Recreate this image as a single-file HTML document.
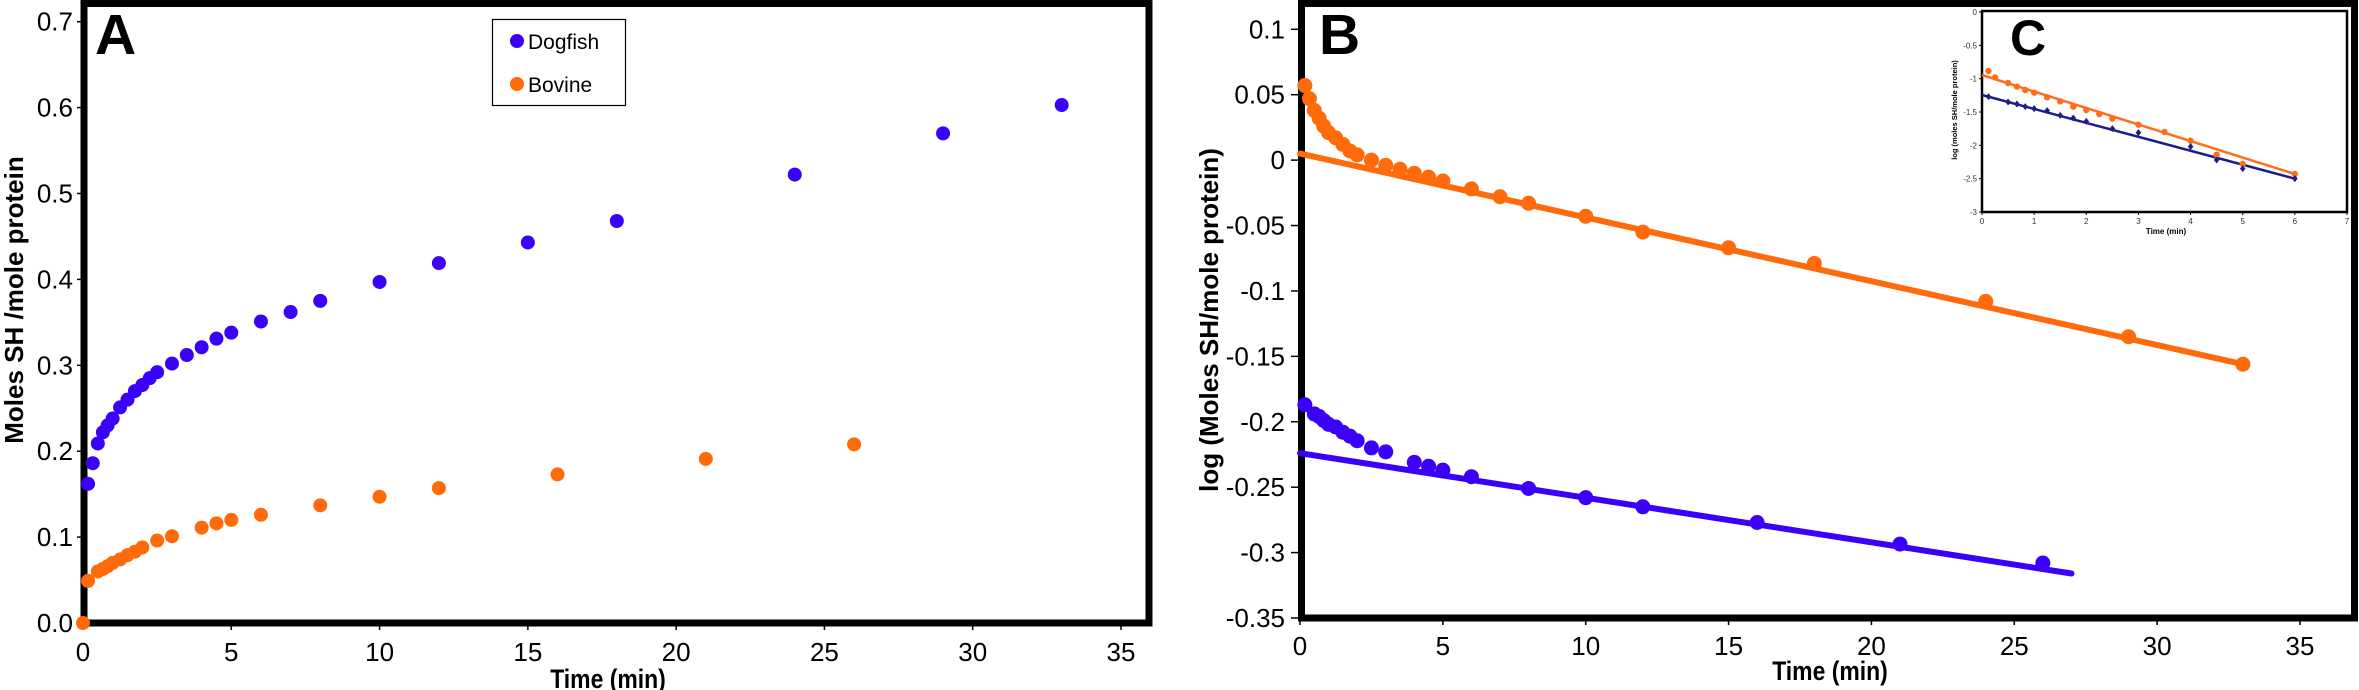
<!DOCTYPE html>
<html><head><meta charset="utf-8"><style>
html,body{margin:0;padding:0;background:#fff;}
svg{display:block;font-family:"Liberation Sans",Arial,sans-serif;}
</style></head><body>
<svg id="chart" width="2359" height="690" viewBox="0 0 2359 690" xmlns="http://www.w3.org/2000/svg">
<rect x="0" y="0" width="2359" height="690" fill="#fff"/>
<g id="panelA"></g>
<g id="panelB"></g>
<g id="panelC"></g>
</svg>
<script>
// ---- Panel A data ----
const dogTimesA = [0.17,0.33,0.5,0.67,0.83,1,1.25,1.5,1.75,2,2.25,2.5,3,3.5,4,4.5,5,6,7,8,10,12,15,18,24,29,33];
const dogValsA  = [0.162,0.186,0.209,0.222,0.230,0.238,0.251,0.260,0.270,0.277,0.285,0.292,0.302,0.312,0.321,0.331,0.338,0.351,0.362,0.375,0.397,0.419,0.443,0.468,0.522,0.570,0.603];
const bovTimesA = [0,0.17,0.5,0.67,0.83,1,1.25,1.5,1.75,2,2.5,3,4,4.5,5,6,8,10,12,16,21,26];
const bovValsA  = [0.0,0.049,0.060,0.063,0.066,0.070,0.074,0.079,0.083,0.088,0.096,0.101,0.111,0.116,0.120,0.126,0.137,0.147,0.157,0.173,0.191,0.208];
const xTicksA = [0,5,10,15,20,25,30,35];
const yTicksA = [0,0.1,0.2,0.3,0.4,0.5,0.6,0.7];
const yTickLabelsA = ["0.0","0.1","0.2","0.3","0.4","0.5","0.6","0.7"];
// ---- Panel B data ----
const bovTimesB = [0.17,0.33,0.5,0.67,0.83,1,1.25,1.5,1.75,2,2.5,3,3.5,4,4.5,5,6,7,8,10,12,15,18,24,29,33];
const bovValsB  = [0.057,0.047,0.038,0.032,0.026,0.021,0.017,0.012,0.007,0.004,0.0,-0.004,-0.007,-0.010,-0.013,-0.016,-0.022,-0.028,-0.033,-0.043,-0.055,-0.067,-0.079,-0.108,-0.135,-0.156];
const bovFitB = [[0,0.005],[33,-0.156]];
const dogTimesB = [0.17,0.5,0.67,0.83,1,1.25,1.5,1.75,2,2.5,3,4,4.5,5,6,8,10,12,16,21,26];
const dogValsB  = [-0.187,-0.194,-0.196,-0.199,-0.202,-0.204,-0.208,-0.211,-0.2145,-0.220,-0.223,-0.231,-0.234,-0.237,-0.242,-0.251,-0.258,-0.265,-0.277,-0.2935,-0.308];
const dogFitB = [[0,-0.224],[27,-0.316]];
const xTicksB = [0,5,10,15,20,25,30,35];
const yTicksB = [0.1,0.05,0,-0.05,-0.1,-0.15,-0.2,-0.25,-0.3,-0.35];
const yTickLabelsB = ["0.1","0.05","0","-0.05","-0.1","-0.15","-0.2","-0.25","-0.3","-0.35"];
// ---- Panel C data ----
const bovTimesC = [0.125,0.25,0.5,0.67,0.83,1,1.25,1.5,1.75,2,2.25,2.5,3,3.5,4,4.5,5,6];
const bovValsC  = [-0.885,-0.98,-1.065,-1.12,-1.17,-1.21,-1.28,-1.34,-1.42,-1.47,-1.53,-1.6,-1.69,-1.8,-1.93,-2.14,-2.28,-2.43];
const bovFitC = [[0,-0.945],[6,-2.43]];
const dogTimesC = [0.125,0.5,0.67,0.83,1,1.25,1.5,1.75,2,2.5,3,4,4.5,5,6];
const dogValsC  = [-1.27,-1.35,-1.38,-1.42,-1.45,-1.48,-1.55,-1.59,-1.64,-1.75,-1.81,-2.02,-2.22,-2.35,-2.5];
const dogFitC = [[0,-1.245],[6,-2.5]];
const xTicksC = [0,1,2,3,4,5,6,7];
const yTicksC = [0,-0.5,-1,-1.5,-2,-2.5,-3];
const yTickLabelsC = ["0","-0.5","-1","-1.5","-2","-2.5","-3"];

const NS="http://www.w3.org/2000/svg";
const BLUE="#3a00f8", ORANGE="#ff6a0a", NAVY="#1c1c8a", ORANGE2="#ff6e1a";
function mk(parent, tag, attrs, text){
  const e=document.createElementNS(NS,tag);
  for(const k in attrs) e.setAttribute(k,attrs[k]);
  if(text!==undefined) e.textContent=text;
  parent.appendChild(e); return e;
}
function lin(d0,d1,r0,r1){return v=>r0+(v-d0)*(r1-r0)/(d1-d0);}

// ===== Panel A =====
(function(){
  const g=document.getElementById('panelA');
  const x=lin(0,35,83,1121), y=lin(0,0.7,623,21.7);
  const fr=mk(g,'rect',{x:84,y:3.5,width:1065,height:619.5,fill:'none',stroke:'#000','stroke-width':7});
   
  yTicksA.forEach((v,i)=>{
    const t=mk(g,'line',{x1:77,x2:84,y1:y(v),y2:y(v),stroke:'#000','stroke-width':1.5});
     
    const l=mk(g,'text',{x:73,y:y(v)+9,'font-size':26,'text-anchor':'end'},yTickLabelsA[i]);
     
  });
  xTicksA.forEach(v=>{
    const t=mk(g,'line',{x1:x(v),x2:x(v),y1:623,y2:630,stroke:'#000','stroke-width':1.5});
     
    const l=mk(g,'text',{x:x(v),y:661,'font-size':26,'text-anchor':'middle'},String(v));
     
  });
  const xt=mk(g,'text',{x:608,y:688,'font-size':27,'font-weight':'bold','text-anchor':'middle',transform:'translate(608 0) scale(0.85 1) translate(-608 0)'},'Time (min)');
   
  const yt=mk(g,'text',{x:0,y:0,'font-size':26,'font-weight':'bold','text-anchor':'middle',transform:'translate(23 300) rotate(-90)'},'Moles SH /mole protein');
   
  const pl=mk(g,'text',{x:95,y:54,'font-size':57,'font-weight':'bold'},'A');
   
  dogTimesA.forEach((t,i)=>{
    const c=mk(g,'circle',{cx:x(t),cy:y(dogValsA[i]),r:7,fill:BLUE});
     
  });
  bovTimesA.forEach((t,i)=>{
    const c=mk(g,'circle',{cx:x(t),cy:y(bovValsA[i]),r:7,fill:ORANGE});
     
  });
  const lg=mk(g,'g',{});
   
  mk(lg,'rect',{x:492.5,y:19.5,width:133,height:86,fill:'#fff',stroke:'#000','stroke-width':1.2});
  const e1=mk(lg,'circle',{cx:517,cy:41,r:7,fill:BLUE});
   
  const t1=mk(lg,'text',{x:528,y:49,'font-size':21},'Dogfish');
   
  const e2=mk(lg,'circle',{cx:517,cy:84,r:7,fill:ORANGE});
   
  const t2=mk(lg,'text',{x:528,y:92,'font-size':21},'Bovine');
   
})();

// ===== Panel B =====
(function(){
  const g=document.getElementById('panelB');
  const x=lin(0,35,1300,2300), y=lin(0.1,-0.35,29.3,618);
  const fr=mk(g,'rect',{x:1301.5,y:3.5,width:1053,height:614.5,fill:'none',stroke:'#000','stroke-width':7});
   
  yTicksB.forEach((v,i)=>{
    const t=mk(g,'line',{x1:1291,x2:1300,y1:y(v),y2:y(v),stroke:'#000','stroke-width':1.5});
     
    const l=mk(g,'text',{x:1285,y:y(v)+9,'font-size':26,'text-anchor':'end'},yTickLabelsB[i]);
     
  });
  xTicksB.forEach(v=>{
    const t=mk(g,'line',{x1:x(v),x2:x(v),y1:618,y2:625,stroke:'#000','stroke-width':1.5});
     
    const l=mk(g,'text',{x:x(v),y:655,'font-size':26,'text-anchor':'middle'},String(v));
     
  });
  const xt=mk(g,'text',{x:1830,y:680,'font-size':27,'font-weight':'bold','text-anchor':'middle',transform:'translate(1830 0) scale(0.85 1) translate(-1830 0)'},'Time (min)');
   
  const yt=mk(g,'text',{x:0,y:0,'font-size':26,'font-weight':'bold','text-anchor':'middle',transform:'translate(1218 320) rotate(-90)'},'log (Moles SH/mole protein)');
   
  const pl=mk(g,'text',{x:1319,y:54,'font-size':57,'font-weight':'bold'},'B');
   
  const l1=mk(g,'line',{x1:x(bovFitB[0][0]),y1:y(bovFitB[0][1]),x2:x(bovFitB[1][0]),y2:y(bovFitB[1][1]),stroke:ORANGE,'stroke-width':6,'stroke-linecap':'round'});
   
  const l2=mk(g,'line',{x1:x(dogFitB[0][0]),y1:y(dogFitB[0][1]),x2:x(dogFitB[1][0]),y2:y(dogFitB[1][1]),stroke:BLUE,'stroke-width':6,'stroke-linecap':'round'});
   
  bovTimesB.forEach((t,i)=>{
    const c=mk(g,'circle',{cx:x(t),cy:y(bovValsB[i]),r:7.5,fill:ORANGE});
     
  });
  dogTimesB.forEach((t,i)=>{
    const c=mk(g,'circle',{cx:x(t),cy:y(dogValsB[i]),r:7.5,fill:BLUE});
     
  });
})();

// ===== Panel C (inset) =====
(function(){
  const g=document.getElementById('panelC');
  const x=lin(0,7,1982,2347), y=lin(0,-3,12,212);
  const fr=mk(g,'rect',{x:1982,y:11,width:365,height:201,fill:'#fff',stroke:'#000','stroke-width':2.5});
   
  yTicksC.forEach((v,i)=>{
    const t=mk(g,'line',{x1:1979,x2:1982,y1:y(v),y2:y(v),stroke:'#000','stroke-width':1});
     
    const l=mk(g,'text',{x:1977,y:y(v)+3,'font-size':8,'text-anchor':'end',fill:'#333'},yTickLabelsC[i]);
     
  });
  xTicksC.forEach(v=>{
    const t=mk(g,'line',{x1:x(v),x2:x(v),y1:212,y2:215,stroke:'#000','stroke-width':1});
     
    const l=mk(g,'text',{x:x(v),y:224,'font-size':8,'text-anchor':'middle',fill:'#333'},String(v));
     
  });
  const xt=mk(g,'text',{x:2166,y:234,'font-size':8,'font-weight':'bold','text-anchor':'middle'},'Time (min)');
   
  const yt=mk(g,'text',{x:0,y:0,'font-size':7.5,'font-weight':'bold','text-anchor':'middle',transform:'translate(1957 110) rotate(-90)'},'log (moles SH/mole protein)');
   
  const pl=mk(g,'text',{x:2010,y:55,'font-size':50,'font-weight':'bold'},'C');
   
  const l1=mk(g,'line',{x1:x(bovFitC[0][0]),y1:y(bovFitC[0][1]),x2:x(bovFitC[1][0]),y2:y(bovFitC[1][1]),stroke:ORANGE2,'stroke-width':2.5});
   
  const l2=mk(g,'line',{x1:x(dogFitC[0][0]),y1:y(dogFitC[0][1]),x2:x(dogFitC[1][0]),y2:y(dogFitC[1][1]),stroke:NAVY,'stroke-width':2.5});
   
  bovTimesC.forEach((t,i)=>{
    const c=mk(g,'circle',{cx:x(t),cy:y(bovValsC[i]),r:3.2,fill:ORANGE2});
     
  });
  dogTimesC.forEach((t,i)=>{
    const cx=x(t), cy=y(dogValsC[i]);
    const p=mk(g,'polygon',{points:`${cx},${cy-3.5} ${cx+2.8},${cy} ${cx},${cy+3.5} ${cx-2.8},${cy}`,fill:NAVY});
     
  });
})();
</script>
</body></html>
